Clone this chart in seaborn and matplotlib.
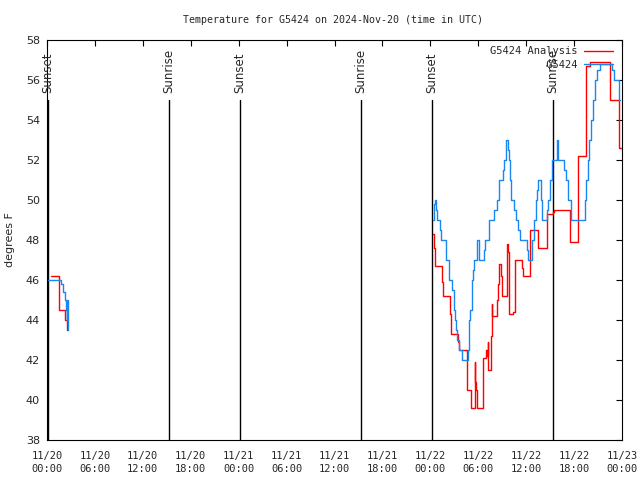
import pandas as pd
import numpy as np
import matplotlib
matplotlib.use('Agg')
import matplotlib.pyplot as plt
import seaborn as sns

sns.set_style('white')

# hours since 2024-11-20 00:00 UTC; step changes (gnuplot "steps")
analysis_hours = [0.55, 1.54, 2.30, 2.55, 2.62,
                  48.33, 48.40, 48.59, 49.50, 49.63, 50.51, 50.63, 51.50, 51.63,
                  52.55, 52.63, 53.13, 53.59, 53.64, 53.70, 53.88, 54.55, 54.63,
                  54.97, 55.06, 55.18, 55.26, 55.56, 55.68, 55.72, 55.76, 56.39,
                  56.51, 56.64, 56.85, 57.02, 57.56, 57.64, 57.73, 57.81, 57.89,
                  58.39, 58.60, 59.52, 59.64, 60.52, 61.52, 62.57, 63.40, 63.53,
                  65.49, 66.53, 67.53, 68.00, 70.50, 71.63, 71.88]
analysis_temp = [46.2, 44.5, 44.0, 43.5, 43.5,
                 48.3, 47.6, 46.7, 45.9, 45.2, 44.3, 43.3, 42.9, 42.5,
                 41.5, 40.5, 39.6, 41.9, 40.9, 40.5, 39.6, 40.8, 42.1,
                 42.5, 42.2, 42.9, 41.5, 43.2, 44.8, 44.4, 44.2, 45.0,
                 45.8, 46.8, 46.2, 45.2, 46.2, 47.8, 47.4, 46.7, 44.3,
                 44.4, 47.0, 46.6, 46.2, 48.5, 47.6, 49.3, 49.4, 49.5,
                 47.9, 52.2, 56.7, 56.9, 55.0, 52.6, 52.6]
analysis_seg = [0] * 5 + [1] * 52

obs_hours = [0.00, 1.70, 2.00, 2.20, 2.35, 2.45, 2.55, 2.60, 2.63, 2.66,
             48.33, 48.45, 48.59, 48.71, 48.80, 49.17, 49.29, 49.92, 50.38,
             50.76, 51.00, 51.13, 51.22, 51.34, 51.63, 51.97, 52.76, 52.88,
             53.00, 53.18, 53.34, 53.51, 53.81, 54.13, 54.72, 54.85, 55.39,
             55.97, 56.31, 56.60, 57.10, 57.27, 57.44, 57.52, 57.77, 57.85,
             58.02, 58.14, 58.52, 58.69, 59.02, 59.19, 60.10, 60.27, 60.77,
             60.94, 61.19, 61.32, 61.52, 61.82, 62.03, 62.57, 62.70, 62.94,
             63.19, 63.88, 63.95, 64.03, 64.78, 64.95, 65.28, 65.58, 67.37,
             67.53, 67.70, 67.87, 68.12, 68.33, 68.62, 68.90, 69.20, 70.70,
             71.03, 71.60, 71.75]
obs_temp = [46.0, 45.8, 45.4, 45.0, 44.5, 44.0, 45.0, 44.3, 43.5, 43.5,
            49.0, 49.8, 50.0, 49.5, 49.0, 48.5, 48.0, 47.0, 46.0,
            45.5, 44.5, 44.0, 43.5, 43.0, 42.5, 42.0, 42.5, 44.0,
            44.5, 46.0, 46.5, 47.0, 48.0, 47.0, 47.5, 48.0, 49.0,
            49.5, 50.0, 51.0, 51.5, 52.0, 52.5, 53.0, 52.5, 52.0,
            51.0, 50.0, 49.5, 49.0, 48.5, 48.0, 47.5, 47.0, 48.0,
            49.0, 50.0, 50.5, 51.0, 50.0, 49.0, 49.5, 50.0, 51.0,
            52.0, 53.0, 52.5, 52.0, 51.5, 51.0, 50.0, 49.0, 50.0,
            51.0, 52.0, 53.0, 54.0, 55.0, 56.0, 56.5, 56.8, 56.5,
            56.0, 55.0, 55.0]
obs_seg = [0] * 10 + [1] * 75

sun_hours = [0.125, 15.28, 24.17, 39.32, 48.21, 63.36]
sun_labels = ['Sunset', 'Sunrise', 'Sunset', 'Sunrise', 'Sunset', 'Sunrise']

xtick_hours = list(range(0, 73, 6))
xtick_labels = ['11/20\n00:00', '11/20\n06:00', '11/20\n12:00', '11/20\n18:00',
                '11/21\n00:00', '11/21\n06:00', '11/21\n12:00', '11/21\n18:00',
                '11/22\n00:00', '11/22\n06:00', '11/22\n12:00', '11/22\n18:00',
                '11/23\n00:00']

df = pd.concat([
    pd.DataFrame({'hour': analysis_hours, 'temp': analysis_temp,
                  'seg': analysis_seg, 'series': 'G5424 Analysis'}),
    pd.DataFrame({'hour': obs_hours, 'temp': obs_temp,
                  'seg': obs_seg, 'series': 'G5424'}),
])
colors = {'G5424 Analysis': '#ff0000', 'G5424': '#1a86f0'}

mono = 'DejaVu Sans Mono'
fig = plt.figure(figsize=(6.4, 4.8), dpi=100)
ax = fig.add_axes([47 / 640, 40 / 480, 575 / 640, 400 / 480])

# sunrise / sunset markers
for h, lab in zip(sun_hours, sun_labels):
    ax.plot([h, h], [38, 55], color='black', lw=1.0)
    ax.text(h, 55.35, lab, rotation=90, ha='center', va='bottom',
            fontsize=8.5, family='DejaVu Sans')

for name in ['G5424 Analysis', 'G5424']:
    sub = df[df['series'] == name]
    for seg, part in sub.groupby('seg'):
        sns.lineplot(data=part, x='hour', y='temp', ax=ax, color=colors[name],
                     drawstyle='steps-post', lw=1.0, legend=False,
                     estimator=None, sort=False)

ax.set_xlim(0, 72)
ax.set_ylim(38, 58)
ax.set_xticks(xtick_hours)
ax.set_xticklabels(xtick_labels, family=mono, fontsize=7.5, linespacing=1.3)
ax.set_yticks(np.arange(38, 59, 2))
ax.tick_params(axis='both', direction='in', length=4, width=0.8,
               top=True, right=True, color='black')
ax.tick_params(axis='x', pad=8)
ax.tick_params(axis='y', pad=5, labelsize=8)
ax.set_xlabel('')
ax.set_ylabel('')
for s in ax.spines.values():
    s.set_color('black')
    s.set_linewidth(0.8)

handles = [plt.Line2D([], [], color=colors[n], lw=1.0) for n in colors]
labels = [n.rjust(14) for n in colors]
leg = ax.legend(handles, labels, loc='upper right', frameon=False,
                markerfirst=False, handlelength=2.8, handletextpad=0.6,
                borderaxespad=0.2, labelspacing=0.35,
                bbox_to_anchor=(0.995, 1.0),
                prop={'family': mono, 'size': 7.5})

fig.text(333 / 640, 1 - 20 / 480, 'Temperature for G5424 on 2024-Nov-20 (time in UTC)',
         ha='center', va='center', family=mono, fontsize=7.2)
fig.text(10 / 640, 0.5, 'degrees F', rotation=90, ha='center', va='center',
         fontsize=8, family='DejaVu Sans')

fig.savefig('out.png', dpi=100)
